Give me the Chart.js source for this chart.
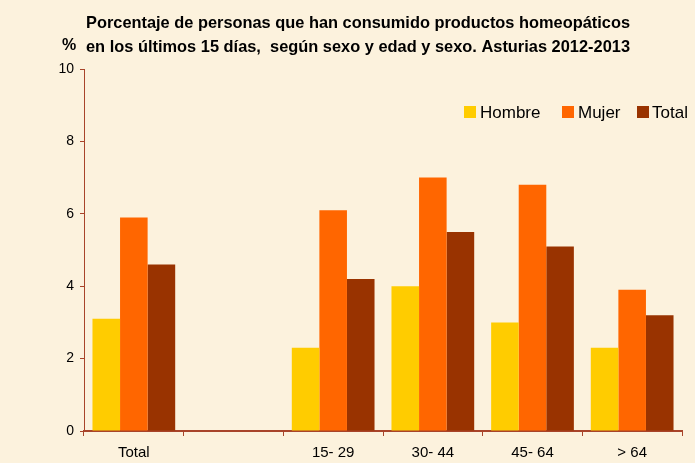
<!DOCTYPE html>
<html><head><meta charset="utf-8">
<script src="https://cdn.jsdelivr.net/npm/chart.js@4/dist/chart.umd.min.js"></script>
<style>
html,body{margin:0;padding:0;background:#FCF2DD;}
#wrap{width:695px;height:463px;position:relative;}
</style></head><body>
<div id="wrap"><canvas id="c" width="695" height="463"></canvas></div>
<script>
const categories = ["Total", "", "15- 29", "30- 44", "45- 64", "> 64"];
const hombre = [3.1, null, 2.3, 4.0, 3.0, 2.3];
const mujer  = [5.9, null, 6.1, 7.0, 6.8, 3.9];
const total  = [4.6, null, 4.2, 5.5, 5.1, 3.2];
const seriesNames = ["Hombre", "Mujer", "Total"];
const yTicks = [0, 2, 4, 6, 8, 10];
const titleLines = ["Porcentaje de personas que han consumido productos homeopáticos",
                    "en los últimos 15 días,  según sexo y edad y sexo. Asturias 2012-2013"];
const yUnit = "%";

const colors = ["#FFCC00", "#FF6600", "#993300"];
const axisColor = "#A8442A";
const FONT = "'Liberation Sans', Arial, sans-serif";

const bgPlugin = {
  id: 'bg',
  beforeDraw(chart) {
    const ctx = chart.ctx;
    ctx.save();
    ctx.fillStyle = '#FCF2DD';
    ctx.fillRect(0, 0, chart.width, chart.height);
    ctx.restore();
  },
  afterDraw(chart) {
    const ctx = chart.ctx;
    ctx.save();
    ctx.fillStyle = '#000';
    ctx.font = "bold 16.5px " + FONT;
    ctx.textBaseline = 'alphabetic';
    ctx.textAlign = 'left';
    const targetW = 544;
    titleLines.forEach((t, i) => {
      const w = ctx.measureText(t).width;
      const sx = targetW / w;
      ctx.save();
      ctx.translate(86, 28 + i * 24);
      ctx.scale(sx, 1);
      ctx.fillText(t, 0, 0);
      ctx.restore();
    });
    ctx.font = "bold 16px " + FONT;
    ctx.fillText(yUnit, 62, 50);
    // legend
    ctx.font = "17px " + FONT;
    const pos = [[464, 480], [562, 578], [637, 652]];
    seriesNames.forEach((n, i) => {
      ctx.fillStyle = colors[i];
      ctx.fillRect(pos[i][0], 106, 12, 12);
      ctx.fillStyle = '#000';
      ctx.fillText(n, pos[i][1], 118);
    });
    ctx.restore();
  }
};

new Chart(document.getElementById('c'), {
  type: 'bar',
  data: {
    labels: categories,
    datasets: [
      {label: seriesNames[0], data: hombre, backgroundColor: colors[0]},
      {label: seriesNames[1], data: mujer, backgroundColor: colors[1]},
      {label: seriesNames[2], data: total, backgroundColor: colors[2]}
    ]
  },
  options: {
    responsive: false,
    animation: false,
    devicePixelRatio: 1,
    layout: {padding: {top: 69, right: 13, left: 0, bottom: 0}},
    datasets: {bar: {categoryPercentage: 0.83, barPercentage: 1.0, borderWidth: 0}},
    plugins: {legend: {display: false}, title: {display: false}, tooltip: {enabled: false}},
    scales: {
      x: {
        grid: {display: true, drawOnChartArea: false, offset: true, tickLength: 5, color: axisColor, tickColor: axisColor},
        border: {display: true, color: axisColor, width: 2},
        ticks: {color: '#000', font: {family: FONT, size: 15}, padding: 8, maxRotation: 0},
        afterFit(s) { s.height = 32; }
      },
      y: {
        min: 0, max: 10,
        afterBuildTicks(s) { s.ticks = yTicks.map(v => ({value: v})); },
        grid: {display: true, drawOnChartArea: false, tickLength: 4, color: axisColor, tickColor: axisColor},
        border: {display: true, color: axisColor, width: 1},
        ticks: {color: '#000', font: {family: FONT, size: 14}, padding: 6},
        afterFit(s) { s.width = 84; }
      }
    }
  },
  plugins: [bgPlugin]
});
</script>
</body></html>
